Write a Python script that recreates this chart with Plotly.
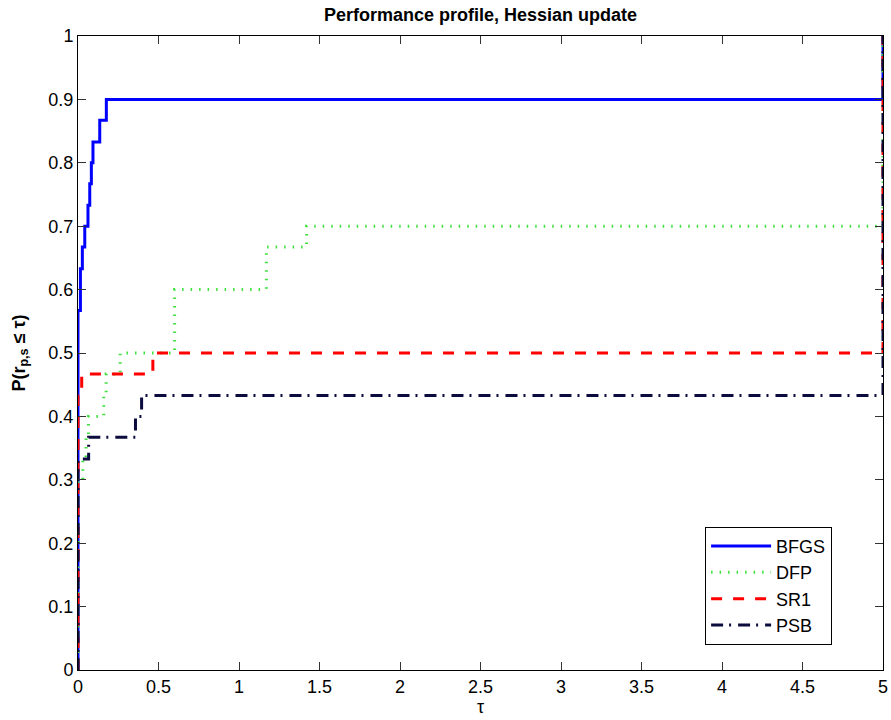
import plotly.graph_objects as go

# ---- data (performance profile step points: tau, P(r_ps <= tau)) ----
bfgs_tau = [0, 0, 0.015, 0.027, 0.042, 0.062, 0.073, 0.083, 0.093, 0.135, 0.176, 5]
bfgs_p = [0, 0.567, 0.633, 0.667, 0.700, 0.733, 0.767, 0.800, 0.833, 0.867, 0.900, 1.0]

dfp_tau = [0, 0, 0.03, 0.05, 0.065, 0.16, 0.175, 0.262, 0.6, 1.17, 1.42, 5]
dfp_p = [0, 0.300, 0.333, 0.367, 0.400, 0.433, 0.467, 0.500, 0.600, 0.667, 0.700, 1.0]

sr1_tau = [0, 0, 0.023, 0.465, 5]
sr1_p = [0, 0.433, 0.467, 0.500, 1.0]

psb_tau = [0, 0, 0.066, 0.357, 0.395, 5]
psb_p = [0, 0.333, 0.367, 0.400, 0.433, 1.0]

x_ticks = [0, 0.5, 1, 1.5, 2, 2.5, 3, 3.5, 4, 4.5, 5]
x_ticklabels = ["0", "0.5", "1", "1.5", "2", "2.5", "3", "3.5", "4", "4.5", "5"]
y_ticks = [0, 0.1, 0.2, 0.3, 0.4, 0.5, 0.6, 0.7, 0.8, 0.9, 1]
y_ticklabels = ["0", "0.1", "0.2", "0.3", "0.4", "0.5", "0.6", "0.7", "0.8", "0.9", "1"]

FONT = "Liberation Sans, Arial, Helvetica, sans-serif"

fig = go.Figure()
fig.add_trace(go.Scatter(x=bfgs_tau, y=bfgs_p, name="BFGS", mode="lines",
                         line=dict(color="#0000ff", width=3, shape="hv"),
                         cliponaxis=False))
fig.add_trace(go.Scatter(x=dfp_tau, y=dfp_p, name="DFP", mode="lines",
                         line=dict(color="#3de03d", width=3, shape="hv", dash="1.5px,7px"),
                         cliponaxis=False))
fig.add_trace(go.Scatter(x=sr1_tau, y=sr1_p, name="SR1", mode="lines",
                         line=dict(color="#ff0000", width=3, shape="hv", dash="11px,11px"),
                         cliponaxis=False))
fig.add_trace(go.Scatter(x=psb_tau, y=psb_p, name="PSB", mode="lines",
                         line=dict(color="#0b0b3d", width=3, shape="hv", dash="12px,6px,2px,7px"),
                         cliponaxis=False))

axis_common = dict(showline=True, linecolor="black", linewidth=1, mirror="allticks",
                   ticks="inside", ticklen=8, tickcolor="#333333", tickwidth=1,
                   showgrid=False, zeroline=False, automargin=False,
                   tickfont=dict(family=FONT, size=18, color="black"))

fig.update_layout(
    template="none",
    width=891, height=720,
    margin=dict(l=78, r=8, t=36, b=50, pad=0),
    paper_bgcolor="white", plot_bgcolor="white",
    font=dict(family=FONT, size=18, color="black"),
    title=dict(text="Performance profile, Hessian update", x=0.5, xref="paper",
               y=1 - 15 / 720, yref="container", yanchor="middle", xanchor="center",
               font=dict(family=FONT, size=18, color="black", weight="bold")),
    xaxis=dict(range=[0, 5], tickmode="array", tickvals=x_ticks, ticktext=x_ticklabels,
               title=dict(text="τ", standoff=2, font=dict(family=FONT, size=18)),
               **axis_common),
    yaxis=dict(range=[0, 1], tickmode="array", tickvals=y_ticks, ticktext=y_ticklabels,
               title=dict(text="<b>P(r<sub>p,s</sub> ≤ τ)</b>", standoff=18,
                          font=dict(family=FONT, size=18)),
               **axis_common),
    showlegend=True,
    legend=dict(x=0.779, y=0.226, xanchor="left", yanchor="top",
                bordercolor="black", borderwidth=1, bgcolor="white",
                font=dict(family=FONT, size=18, color="black"),
                itemwidth=60, tracegroupgap=0),
)

fig.write_html("out.html")
